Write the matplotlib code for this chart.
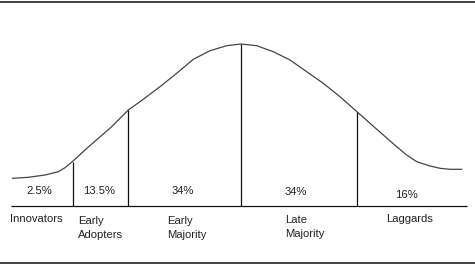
import numpy as np
import matplotlib
matplotlib.use('Agg')
import matplotlib.pyplot as plt

# adoption curve (x along the axis, height above baseline)
curve_x = [12.5, 28.3, 45, 58.3, 65, 72.5, 85, 98.3, 111.7, 123.3, 128.3,
           143.3, 160, 176.7, 193.3, 210, 226.7, 241, 256.7, 273.3, 290,
           306.7, 323.3, 340, 357.3, 370, 383.3, 396.7, 406.7, 416.7, 430,
           440, 450, 461.7]
curve_y = [27.2, 28.2, 30.5, 33.8, 37.8, 44.0, 55.5, 67.2, 78.8, 90.5, 95.5,
           106.2, 118.8, 132.2, 146.2, 154.8, 159.8, 161.5, 159.8, 153.8, 145.5,
           133.8, 122.2, 108.8, 93.5, 82.2, 70.5, 58.8, 50.5, 43.8, 39.5,
           37.2, 36.2, 36.2]

dividers = [72.5, 128.3, 241, 357.3]
shares = ['2.5%', '13.5%', '34%', '34%', '16%']
groups = ['Innovators', 'Early\nAdopters', 'Early\nMajority', 'Late\nMajority', 'Laggards']

# layout
share_x = [39.3, 98.7, 182.7, 295.3, 406.7]
share_y = [14.3, 14.3, 14.3, 13.3, 10.8]
group_x = [10, 77.7, 166.7, 285, 386]
group_y = [-9.0, -10.5, -10.5, -9.5, -9.0]

fig = plt.figure(figsize=(4.75, 2.67), dpi=100)
ax = fig.add_axes([0, 0, 1, 1])
ax.set_xlim(0, 475)
ax.set_ylim(-61.5, 205.5)
ax.axis('off')

ax.plot(curve_x, curve_y, color='#444444', lw=0.9, solid_joinstyle='round')
ax.hlines(0, 10.5, 466.5, color='#111111', lw=0.9)
tops = np.interp(dividers, curve_x, curve_y)
ax.vlines(dividers, 0, tops, color='#111111', lw=0.9)

for x, y, s in zip(share_x, share_y, shares):
    ax.text(x, y, s, ha='center', va='center', fontsize=8.1,
            family='Liberation Sans', color='#222222')
for x, y, s in zip(group_x, group_y, groups):
    ax.text(x, y, s, ha='left', va='top', fontsize=8.1, linespacing=1.47,
            family='Liberation Sans', color='#222222')

# frame lines at top and bottom of the image
ax.axhline(203.5, color='#333333', lw=1.3)
ax.axhline(-57.2, color='#333333', lw=1.3)

fig.savefig('out.png', dpi=100)
